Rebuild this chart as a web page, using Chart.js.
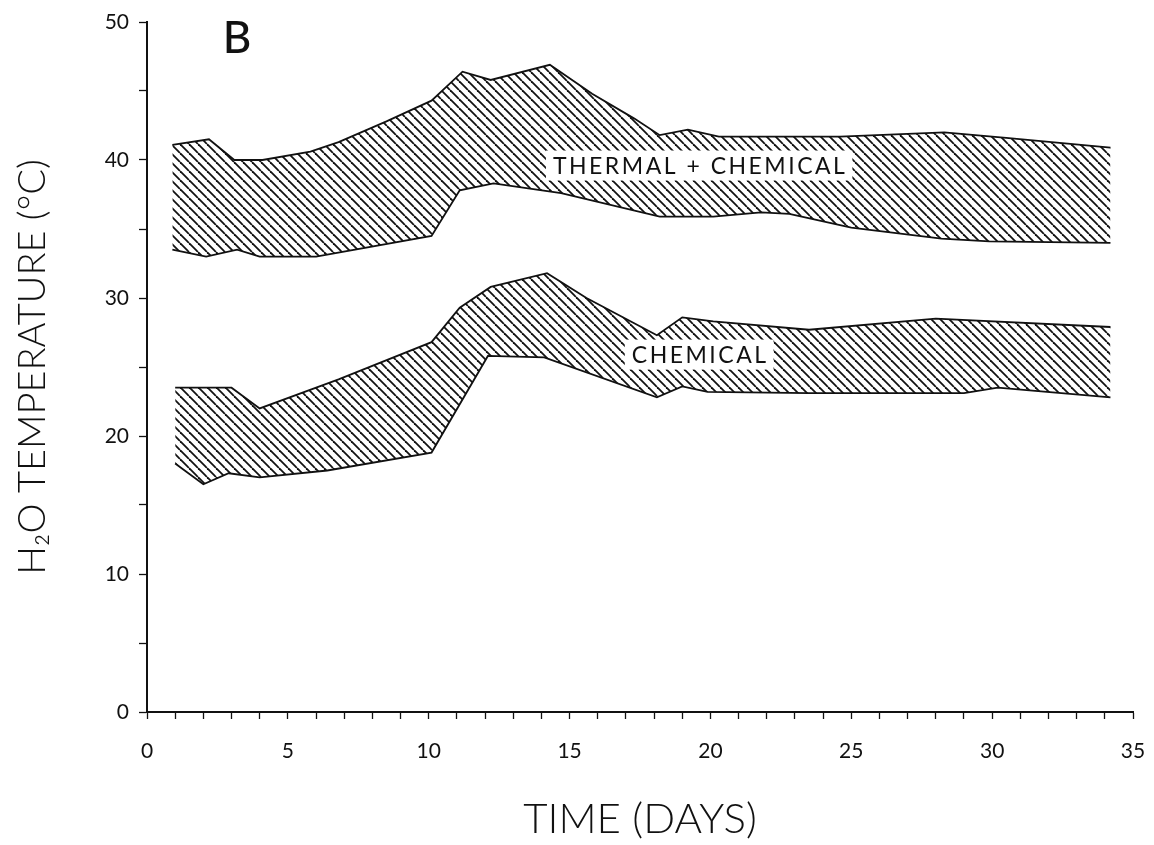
<!DOCTYPE html>
<html>
<head>
<meta charset="utf-8">
<script src="https://cdn.jsdelivr.net/npm/chart.js@4.4.1/dist/chart.umd.min.js"></script>
<style>
    body { margin: 0; background: #fff; }
    #wrap { width: 1154px; height: 845px; }
</style>
</head>
<body>
<div id="wrap"><canvas id="chart" width="1154" height="845"></canvas></div>
<script>
// band edges (day, °C)
const thermalUpperDays = [0.9, 2.2, 3.1, 4.1, 5.8, 6.8, 8.5, 10.1, 11.2, 12.2, 14.3, 15.8, 17.3, 18.2, 19.2, 20.3, 24.6, 28.3, 30.5, 34.2];
const thermalUpperTemp = [41.1, 41.5, 40.0, 40.0, 40.6, 41.3, 42.8, 44.3, 46.4, 45.8, 46.9, 44.8, 43.0, 41.8, 42.2, 41.7, 41.7, 42.0, 41.6, 40.9];
const thermalLowerDays = [0.9, 2.1, 3.2, 4.0, 6.0, 10.1, 11.1, 12.3, 14.7, 18.2, 20.1, 21.8, 22.8, 25.0, 28.2, 29.9, 34.2];
const thermalLowerTemp = [33.5, 33.0, 33.5, 33.0, 33.0, 34.5, 37.8, 38.3, 37.6, 35.9, 35.9, 36.2, 36.1, 35.1, 34.3, 34.1, 34.0];
const chemUpperDays = [1.0, 3.0, 4.0, 6.8, 10.1, 11.1, 12.2, 14.2, 15.6, 18.1, 19.0, 20.1, 23.5, 28.0, 34.2];
const chemUpperTemp = [23.5, 23.5, 22.0, 24.1, 26.8, 29.3, 30.8, 31.8, 30.0, 27.3, 28.6, 28.3, 27.7, 28.5, 27.9];
const chemLowerDays = [1.0, 2.0, 2.9, 4.0, 6.4, 10.1, 12.1, 14.1, 18.1, 19.0, 19.9, 23.5, 29.0, 30.2, 34.2];
const chemLowerTemp = [18.0, 16.5, 17.3, 17.0, 17.5, 18.8, 25.8, 25.7, 22.8, 23.6, 23.2, 23.1, 23.1, 23.5, 22.8];

const bandLabels = ['THERMAL + CHEMICAL', 'CHEMICAL'];
const bandLabelAt = [[19.6, 39.6], [19.6, 25.9]];
const panelLetter = 'B';

const FONT = 'Lato, "Open Sans", "DejaVu Sans", sans-serif';

function zip(xs, ys) {
    return xs.map((x, i) => ({ x, y: ys[i] }));
}

function hatch() {
    const s = 9;
    const c = document.createElement('canvas');
    c.width = s; c.height = s;
    const g = c.getContext('2d');
    g.strokeStyle = '#111';
    g.lineWidth = 1.8;
    for (let k = -1; k <= 1; k++) {
        g.beginPath();
        g.moveTo(k * s, 0);
        g.lineTo(k * s + s, s);
        g.stroke();
    }
    return g.createPattern(c, 'repeat');
}

const pattern = hatch();

function edge(data, fill) {
    return {
        data,
        fill,
        backgroundColor: pattern,
        borderColor: '#111',
        borderWidth: 1.8,
        pointRadius: 0,
        tension: 0,
    };
}

const annotate = {
    id: 'annotate',
    afterDatasetsDraw(chart) {
        const { ctx, scales: { x, y } } = chart;
        ctx.save();
        ctx.font = '400 23px ' + FONT;
        ctx.letterSpacing = '2.5px';
        ctx.textAlign = 'center';
        ctx.textBaseline = 'middle';
        bandLabels.forEach((t, i) => {
            const px = x.getPixelForValue(bandLabelAt[i][0]);
            const py = y.getPixelForValue(bandLabelAt[i][1]);
            const w = ctx.measureText(t).width + 12;
            ctx.fillStyle = '#fff';
            ctx.fillRect(px - w / 2, py - 15, w, 30);
            ctx.fillStyle = '#111';
            ctx.fillText(t, px + 1, py + 1);
        });
        ctx.letterSpacing = '0px';
        ctx.font = '500 44px ' + FONT;
        ctx.fillText(panelLetter, x.getPixelForValue(3.2), y.getPixelForValue(48.8));
        ctx.restore();
    },
};

new Chart(document.getElementById('chart'), {
    type: 'line',
    data: {
        datasets: [
            edge(zip(thermalLowerDays, thermalLowerTemp), false),
            edge(zip(thermalUpperDays, thermalUpperTemp), '-1'),
            edge(zip(chemLowerDays, chemLowerTemp), false),
            edge(zip(chemUpperDays, chemUpperTemp), '-1'),
        ],
    },
    options: {
        responsive: false,
        animation: false,
        layout: { padding: { top: 22, right: 21, left: 0, bottom: 0 } },
        plugins: { legend: { display: false }, tooltip: { enabled: false } },
        scales: {
            x: {
                type: 'linear',
                min: 0,
                max: 35,
                afterFit: s => { s.height = 133; s.paddingLeft = 0; s.paddingRight = 0; },
                border: { color: '#111', width: 2 },
                grid: { drawOnChartArea: false, tickColor: '#111', tickLength: 7, tickWidth: 1.3 },
                ticks: {
                    stepSize: 1,
                    autoSkip: false,
                    maxRotation: 0,
                    padding: 20,
                    color: '#111',
                    font: { family: FONT, size: 21 },
                    callback: v => (v % 5 === 0 ? String(v) : ''),
                },
                title: {
                    display: true,
                    text: 'TIME (DAYS)',
                    color: '#111',
                    font: { family: FONT, size: 42, weight: '300' },
                    padding: 0,
                },
            },
            y: {
                min: 0,
                max: 50,
                afterFit: s => { s.width = 147; s.paddingTop = 0; s.paddingBottom = 0; },
                border: { color: '#111', width: 2 },
                grid: { drawOnChartArea: false, tickColor: '#111', tickLength: 8, tickWidth: 1.3 },
                ticks: {
                    stepSize: 5,
                    padding: 10,
                    color: '#111',
                    font: { family: FONT, size: 21 },
                    callback: v => (v % 10 === 0 ? String(v) : ''),
                },
                title: {
                    display: true,
                    text: 'H\u2082O TEMPERATURE (\u00B0C)',
                    color: '#111',
                    font: { family: FONT, size: 38, weight: '300' },
                    padding: { top: 10, bottom: 0 },
                },
            },
        },
    },
    plugins: [annotate],
});
</script>
</body>
</html>
